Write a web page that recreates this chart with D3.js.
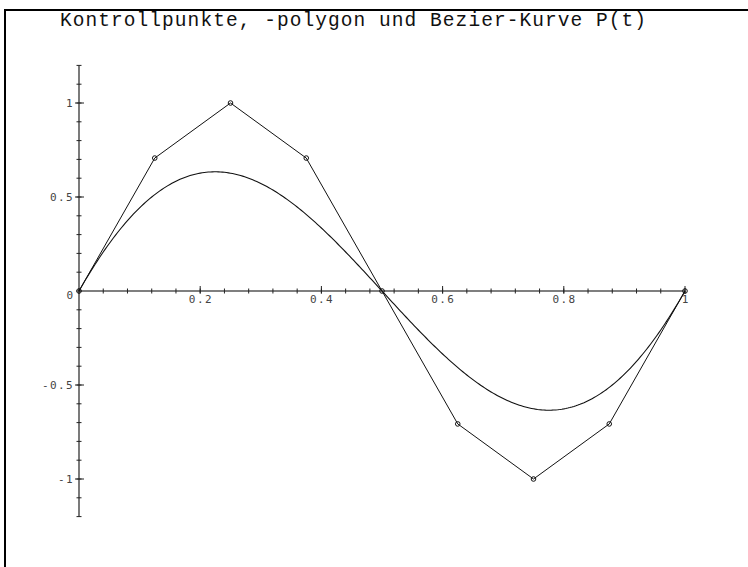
<!DOCTYPE html>
<html>
<head>
<meta charset="utf-8">
<script src="https://cdn.jsdelivr.net/npm/d3@7"></script>
<style>
  html, body { margin: 0; padding: 0; background: #fff; }
  svg { display: block; }
</style>
</head>
<body>
<svg id="chart" width="748" height="567"></svg>
<script>
// ---- data ----
const title = "Kontrollpunkte, -polygon und Bezier-Kurve P(t)";
const ctrlX = [0, 0.125, 0.25, 0.375, 0.5, 0.625, 0.75, 0.875, 1];
const ctrlY = [0, 0.7071, 1, 0.7071, 0, -0.7071, -1, -0.7071, 0];
const xMajorTicks = [0.2, 0.4, 0.6, 0.8, 1];
const xMajorLabels = ["0.2", "0.4", "0.6", "0.8", "1"];
const yMajorTicks = [-1, -0.5, 0.5, 1];
const yMajorLabels = ["-1", "-0.5", "0.5", "1"];
const xMinorStep = 0.04;
const yMinorStep = 0.1;

// ---- layout ----
const svg = d3.select("#chart");
const x = d3.scaleLinear().domain([0, 1]).range([79, 685]);
const y = d3.scaleLinear().domain([-1.2, 1.2]).range([516.6, 65.4]);

// frame (left + top only visible)
svg.append("rect")
  .attr("x", 5).attr("y", 10)
  .attr("width", 800).attr("height", 600)
  .attr("fill", "none").attr("stroke", "#000").attr("stroke-width", 2);

// title
svg.append("text")
  .attr("x", 60).attr("y", 26)
  .attr("font-family", "Liberation Mono, monospace")
  .attr("font-size", 19.5)
  .attr("letter-spacing", 1.06)
  .attr("fill", "#111")
  .text(title);

const tickFont = "DejaVu Sans Mono, monospace";

// minor ticks
const xMinor = d3.range(0, 1 + 1e-9, xMinorStep);
const yMinor = d3.range(-1.2, 1.2 + 1e-9, yMinorStep);

// x axis
svg.append("line")
  .attr("x1", x(0)).attr("x2", x(1))
  .attr("y1", y(0)).attr("y2", y(0))
  .attr("stroke", "#555").attr("stroke-width", 1.4);
svg.selectAll(".xminor").data(xMinor).enter().append("line")
  .attr("x1", d => x(d)).attr("x2", d => x(d))
  .attr("y1", y(0) - 2.5).attr("y2", y(0) + 2.5)
  .attr("stroke", "#222").attr("stroke-width", 1);
svg.selectAll(".xmajor").data(xMajorTicks).enter().append("line")
  .attr("x1", d => x(d)).attr("x2", d => x(d))
  .attr("y1", y(0) - 5).attr("y2", y(0) + 2.5)
  .attr("stroke", "#222").attr("stroke-width", 1);
svg.selectAll(".xlab").data(xMajorTicks).enter().append("text")
  .attr("x", d => x(d) + 0.7).attr("y", y(0) + 12)
  .attr("text-anchor", "middle")
  .attr("font-family", tickFont).attr("font-size", 11)
  .attr("letter-spacing", 1.4)
  .attr("fill", "#444")
  .text((d, i) => xMajorLabels[i]);

// y axis
svg.append("line")
  .attr("x1", x(0)).attr("x2", x(0))
  .attr("y1", y(1.2)).attr("y2", y(-1.2))
  .attr("stroke", "#222").attr("stroke-width", 1.2);
svg.selectAll(".yminor").data(yMinor).enter().append("line")
  .attr("x1", x(0) - 2.5).attr("x2", x(0) + 2.5)
  .attr("y1", d => y(d)).attr("y2", d => y(d))
  .attr("stroke", "#222").attr("stroke-width", 1);
svg.selectAll(".ymajor").data(yMajorTicks).enter().append("line")
  .attr("x1", x(0) - 4).attr("x2", x(0) + 5)
  .attr("y1", d => y(d)).attr("y2", d => y(d))
  .attr("stroke", "#222").attr("stroke-width", 1);
svg.selectAll(".ylab").data(yMajorTicks).enter().append("text")
  .attr("x", x(0) - 5).attr("y", d => y(d) + 4)
  .attr("text-anchor", "end")
  .attr("font-family", tickFont).attr("font-size", 11)
  .attr("letter-spacing", 1.4)
  .attr("fill", "#444")
  .text((d, i) => yMajorLabels[i]);
// origin label
svg.append("text")
  .attr("x", x(0) - 6).attr("y", y(0) + 8)
  .attr("text-anchor", "end")
  .attr("font-family", tickFont).attr("font-size", 11)
  .attr("fill", "#444")
  .text("0");

// control polygon
const ctrl = ctrlX.map((v, i) => [v, ctrlY[i]]);
const line = d3.line().x(d => x(d[0])).y(d => y(d[1]));
svg.append("path")
  .attr("d", line(ctrl))
  .attr("fill", "none").attr("stroke", "#111").attr("stroke-width", 1);

// Bezier curve from control points (de Casteljau)
function bezier(pts, t) {
  let p = pts.map(q => q.slice());
  for (let k = 1; k < p.length; k++) {
    for (let i = 0; i < p.length - k; i++) {
      p[i] = [(1 - t) * p[i][0] + t * p[i + 1][0], (1 - t) * p[i][1] + t * p[i + 1][1]];
    }
  }
  return p[0];
}
const ts = d3.range(0, 1 + 1e-9, 1 / 300);
const curve = ts.map(t => bezier(ctrl, t));
svg.append("path")
  .attr("d", line(curve))
  .attr("fill", "none").attr("stroke", "#111").attr("stroke-width", 1.1);

// control point markers
svg.selectAll(".cp").data(ctrl).enter().append("circle")
  .attr("cx", d => x(d[0])).attr("cy", d => y(d[1]))
  .attr("r", 2.3)
  .attr("fill", "none").attr("stroke", "#111").attr("stroke-width", 1);
</script>
</body>
</html>
